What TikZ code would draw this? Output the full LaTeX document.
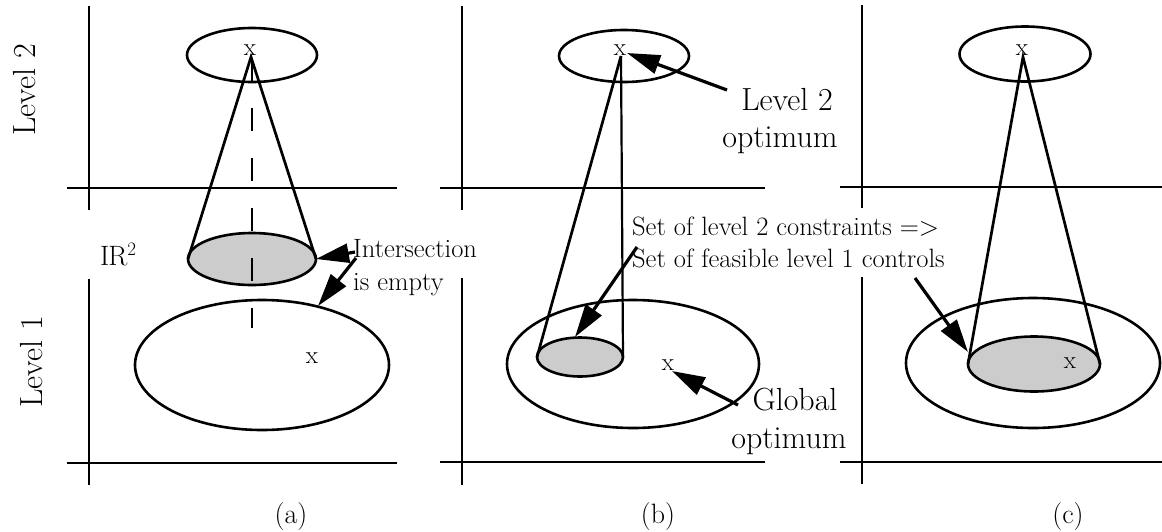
\documentclass[tikz,border=0pt]{standalone}
\usetikzlibrary{shapes.geometric,arrows.meta}
\begin{document}
\begin{tikzpicture}[x=1pt,y=-1pt,
  ax/.style={line width=2.9pt},
  ell/.style={ellipse,draw,line width=2.6pt,inner sep=0pt,outer sep=0pt},
  shd/.style={ell,fill=gray!40},
  cone/.style={line width=2.7pt},
  arr/.style={line width=3.2pt,-{Triangle[length=33pt,width=19pt]}},
  big/.style={font=\fontsize{32}{37}\selectfont,inner sep=0pt},
  mid/.style={font=\fontsize{26.5}{32}\selectfont,inner sep=0pt},
  mk/.style={font=\fontsize{25}{25}\selectfont,inner sep=0pt},
  lbl/.style={font=\fontsize{28}{28}\selectfont,inner sep=0pt}]
\useasboundingbox (0,0) rectangle (1162,531);
\fill[white] (0,0) rectangle (1162,531);

% ---------- axes ----------
\draw[ax] (89,6) -- (89,210);   \draw[ax] (67,188) -- (397,188);
\draw[ax] (89,279) -- (89,485); \draw[ax] (67,463) -- (397,463);
\draw[ax] (462,6) -- (462,210);   \draw[ax] (440,188) -- (765,188);
\draw[ax] (462,278) -- (462,485); \draw[ax] (440,462) -- (765,462);
\draw[ax] (862,5) -- (862,208);   \draw[ax] (840,187) -- (1162,187);
\draw[ax] (862,277) -- (862,484); \draw[ax] (840,462) -- (1162,462);

\node[big,rotate=90] (lv2) at (25,90) {Level 2};
\node[big,rotate=90] (lv1) at (32,362) {Level 1};

% ---------- panel (a) ----------
\node[ell,minimum width=130pt,minimum height=54pt] (ta) at (252,55) {};
\node[ell,minimum width=254pt,minimum height=130pt] (ba) at (262,365) {};
\node[shd,minimum width=128pt,minimum height=52pt] (sa) at (252,259) {};
\coordinate (aa) at (251,57);
\draw[cone] (sa.west) -- (aa) -- (sa.east);
\coordinate (da1) at (252,58);
\coordinate (da2) at (252,328);
\draw[line width=2.8pt,dash pattern=on 23pt off 27pt] (da1) -- (da2);
\node[mk] (xa) at (250,50) {x};
\node[mk] (xba) at (312,358) {x};
\node[lbl,anchor=base west] (ir) at (100,265) {I\kern-1pt R\raisebox{10pt}{\fontsize{19}{19}\selectfont 2}};
\node[mid,anchor=base west] (int1) at (353,257) {Intersection};
\node[mid,anchor=base west] (int2) at (353,290) {is empty};
\coordinate (t1) at (355,252);
\coordinate (t2) at (356,258);
\coordinate (h2) at (318,306);
\draw[arr] (t1) -- (sa.east);
\draw[arr] (t2) -- (h2);
\node[lbl] (la) at (291,517) {(a)};

% ---------- panel (b) ----------
\node[ell,minimum width=130pt,minimum height=52pt] (tb) at (624,56) {};
\node[ell,minimum width=252pt,minimum height=128pt] (bb) at (633,364) {};
\node[shd,minimum width=86pt,minimum height=39pt] (sb) at (580,357) {};
\coordinate (ab) at (621,56);
\draw[cone] (sb.west) -- (ab);
\draw[line width=2.2pt] (ab) -- (sb.east);
\node[mk] (xb) at (620,50) {x};
\node[mk] (xgb) at (668,365) {x};
\node[big,anchor=base] (lo1) at (787,110) {Level 2};
\node[big,anchor=base] (lo2) at (780,147) {optimum};
\node[big,anchor=base] (go1) at (795,410) {Global};
\node[big,anchor=base] (go2) at (789,448) {optimum};
\node[mid,anchor=base west] (s1) at (632,235) {Set of level 2 constraints =>};
\node[mid,anchor=base west] (s2) at (632,267) {Set of feasible level 1 controls};
\coordinate (tl2) at (727,90);  \coordinate (hl2) at (627,53);
\coordinate (ts) at (637,247);  \coordinate (hs) at (575,337);
\coordinate (tg) at (738,405);  \coordinate (hg) at (672,371);
\draw[arr] (tl2) -- (hl2);
\draw[arr] (ts) -- (hs);
\draw[arr] (tg) -- (hg);
\node[lbl] (lb) at (658,517) {(b)};

% ---------- panel (c) ----------
\node[ell,minimum width=131pt,minimum height=55pt] (tc) at (1025,54) {};
\node[ell,minimum width=254pt,minimum height=130pt] (bc) at (1033,363) {};
\node[shd,minimum width=132pt,minimum height=55pt] (sc) at (1034,364) {};
\coordinate (ac) at (1023,57);
\draw[cone] (sc.west) -- (ac) -- (sc.east);
\node[mk] (xc) at (1022,50) {x};
\node[mk] (xsc) at (1070,363) {x};
\coordinate (tc2) at (915,278); \coordinate (hc) at (968,352);
\draw[arr] (tc2) -- (hc);
\node[lbl] (lc) at (1068,517) {(c)};
\end{tikzpicture}
\end{document}
